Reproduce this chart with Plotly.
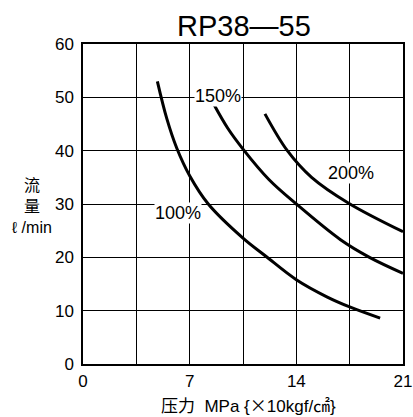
import plotly.graph_objects as go

# Flow vs. pressure characteristic, RP38-55
pressure_100 = [4.88, 5.5, 6.15, 7.0, 8.22, 10.5, 12.0, 14.0, 16.0, 17.5, 19.5]
flow_100 = [53.0, 46.0, 40.5, 35.3, 30.0, 23.6, 20.2, 15.8, 12.6, 10.7, 8.6]

pressure_150 = [8.6, 9.5, 10.5, 12.2, 14.0, 16.9, 18.8, 21.0]
flow_150 = [48.6, 44.2, 40.3, 34.6, 30.0, 23.3, 20.0, 17.0]

pressure_200 = [11.94, 13.41, 15.0, 17.46, 21.0]
flow_200 = [46.9, 40.0, 35.0, 30.1, 24.8]

curve_labels = ["100%", "150%", "200%"]
label_x = [6.25, 8.86, 17.6]
label_y = [28.4, 50.3, 35.8]

x_ticks = [0, 7, 14, 21]
y_ticks = [0, 10, 20, 30, 40, 50, 60]

LATIN = "Liberation Sans, Arial, sans-serif"
CJK = "Liberation Sans, Noto Sans CJK SC, sans-serif"

fig = go.Figure()
for xs, ys in [(pressure_100, flow_100), (pressure_150, flow_150), (pressure_200, flow_200)]:
    fig.add_trace(go.Scatter(
        x=xs, y=ys, mode="lines",
        line=dict(color="black", width=3, shape="spline", smoothing=1.0),
        showlegend=False, hoverinfo="skip",
    ))

for text, lx, ly in zip(curve_labels, label_x, label_y):
    fig.add_annotation(x=lx, y=ly, text=text, showarrow=False,
                       font=dict(family=LATIN, size=18, color="black"),
                       bgcolor="white", borderpad=0)

fig.add_annotation(xref="paper", yref="paper", x=0.503, y=1.056,
                   text="RP38—55", showarrow=False,
                   xanchor="center", yanchor="middle",
                   font=dict(family=LATIN, size=29, color="black"))

fig.add_annotation(xref="paper", yref="paper", x=-0.159, y=0.493,
                   text="流<br>量<br>ℓ /min", showarrow=False,
                   xanchor="center", yanchor="middle",
                   font=dict(family=CJK, size=16, color="black"))

x_title = ("压力  MPa {<span style=\"font-family:'Noto Sans CJK SC'\">×</span>"
           "10kgf/㎠}")
fig.add_annotation(xref="paper", yref="paper", x=0.516, y=-0.125,
                   text=x_title, showarrow=False,
                   xanchor="center", yanchor="middle",
                   font=dict(family=CJK, size=17, color="black"))

axis_common = dict(
    showline=True, linecolor="black", linewidth=1.5, mirror=True,
    showgrid=True, gridcolor="black", gridwidth=1.3,
    zeroline=False, ticks="", automargin=False,
    tickfont=dict(family=LATIN, size=17, color="black"),
    fixedrange=True,
)

fig.update_xaxes(range=[0, 21], tickvals=x_ticks,
                 minor=dict(dtick=3.5, tick0=0, showgrid=True,
                            gridcolor="black", gridwidth=1.3),
                 ticklabelstandoff=1, **axis_common)
fig.update_yaxes(range=[0, 60], tickvals=y_ticks, ticklabelstandoff=4,
                 **axis_common)

fig.update_layout(
    width=413, height=417,
    margin=dict(l=83, r=10, t=44, b=53, autoexpand=False),
    paper_bgcolor="white", plot_bgcolor="white",
)

fig.write_html("out.html", config={"displayModeBar": False})
